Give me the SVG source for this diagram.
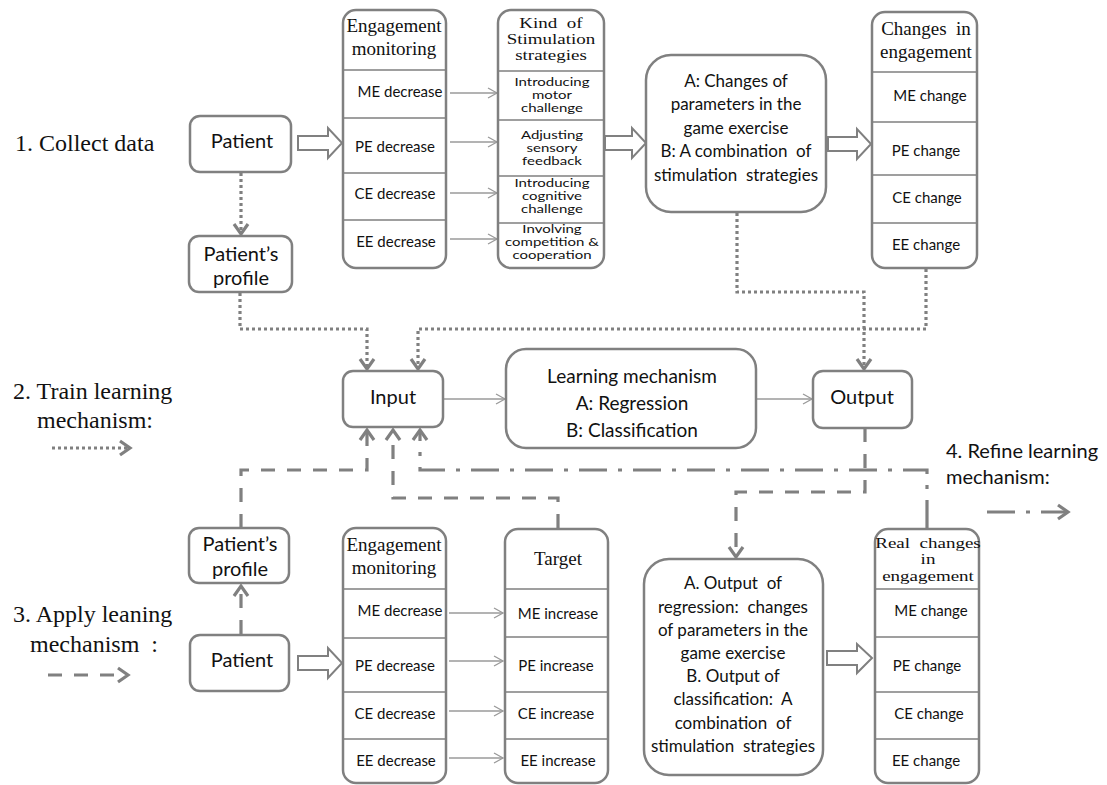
<svg xmlns="http://www.w3.org/2000/svg" width="1107" height="785" viewBox="0 0 1107 785">
<defs>
<style>
.box{fill:#fff;stroke:#808080;stroke-width:2.5}
.div{stroke:#808080;stroke-width:1.5;fill:none}
.hol{fill:#fff;stroke:#808080;stroke-width:2;stroke-linejoin:miter}
.thin{stroke:#9a9a9a;stroke-width:1.3;fill:none}
.dot{stroke:#808080;stroke-width:3.2;fill:none;stroke-dasharray:3 3}
.dash{stroke:#808080;stroke-width:3.2;fill:none;stroke-dasharray:14 12}
.dd{stroke:#808080;stroke-width:3.2;fill:none;stroke-dasharray:28 11 4 11}
.serif{font-family:"Liberation Serif","Times New Roman",serif;fill:#111}
.sans{font-family:Lato,"Open Sans",sans-serif;fill:#111}
.c{text-anchor:middle}
.pre{white-space:pre}
.sq{font-family:Lato,"Open Sans",sans-serif;fill:#111;font-size:15px;text-anchor:middle}
.sqs{font-family:"Liberation Serif","Times New Roman",serif;fill:#111;font-size:19px;text-anchor:middle;white-space:pre}
</style>
<marker id="chev" markerUnits="userSpaceOnUse" markerWidth="18" markerHeight="18" viewBox="0 0 18 18" refX="14" refY="9" orient="auto">
<path d="M4,2 L14,9 L4,16" fill="none" stroke="#808080" stroke-width="3.2" stroke-dasharray="none"/>
</marker>
<marker id="ta" markerUnits="userSpaceOnUse" markerWidth="12" markerHeight="12" viewBox="0 0 12 12" refX="10" refY="6" orient="auto">
<path d="M1,1 L10,6 L1,11" fill="none" stroke="#9a9a9a" stroke-width="1.3"/>
</marker>
</defs>

<g id="labels">
<text class="serif" x="15" y="151" font-size="24">1. Collect data</text>
<text class="serif" x="13" y="399" font-size="24">2. Train learning</text>
<text class="serif" x="37" y="428" font-size="24">mechanism:</text>
<text class="serif" x="13" y="622" font-size="24">3. Apply leaning</text>
<text class="serif pre" x="30" y="652" font-size="24">mechanism  :</text>
<text class="sans" x="946" y="458" font-size="20">4. Refine learning</text>
<text class="sans" x="946" y="484" font-size="20">mechanism:</text>
</g>

<g id="connectors">
<path class="dot" d="M52,448 H130" marker-end="url(#chev)"/>
<path class="dash" d="M48,675 H128" marker-end="url(#chev)"/>
<path class="dd" d="M987,512 H1068" marker-end="url(#chev)"/>

<path class="dot" d="M241,173 V234" marker-end="url(#chev)"/>
<path class="dot" d="M240,293 V329 H367 V369" marker-end="url(#chev)"/>
<path class="dot" d="M737,213 V292 H864 V369" marker-end="url(#chev)"/>
<path class="dot" d="M926,269 V329 H418 V369" marker-end="url(#chev)"/>

<path class="thin" d="M450,93 H497" marker-end="url(#ta)"/>
<path class="thin" d="M450,142 H497" marker-end="url(#ta)"/>
<path class="thin" d="M450,193 H497" marker-end="url(#ta)"/>
<path class="thin" d="M450,239 H497" marker-end="url(#ta)"/>
<path class="thin" d="M444,399 H505" marker-end="url(#ta)"/>
<path class="thin" d="M757,399 H812" marker-end="url(#ta)"/>
<path class="thin" d="M449,613 H503" marker-end="url(#ta)"/>
<path class="thin" d="M449,661 H503" marker-end="url(#ta)"/>
<path class="thin" d="M449,711 H503" marker-end="url(#ta)"/>
<path class="thin" d="M449,758 H503" marker-end="url(#ta)"/>

<path class="dash" d="M241,634 V586" marker-end="url(#chev)"/>
<path class="dash" d="M241,528 V470 H367 V430" marker-end="url(#chev)"/>
<path class="dash" d="M558,528 V498 H393 V430" marker-end="url(#chev)"/>
<path class="dd" d="M927,528 V470 H420 V430" marker-end="url(#chev)"/>
<path class="dash" d="M865,428 V492 H736 V557" marker-end="url(#chev)"/>

<polygon class="hol" points="298,136 328,136 328,128 342,143 328,158 328,150 298,150"/>
<polygon class="hol" points="605,136 632,136 632,128 646,143 632,158 632,150 605,150"/>
<polygon class="hol" points="828,137 857,137 857,129 871,144 857,159 857,151 828,151"/>
<polygon class="hol" points="298,656 328,656 328,648 342,663 328,678 328,670 298,670"/>
<polygon class="hol" points="827,651 857,651 857,644 872,658 857,673 857,665 827,665"/>
</g>

<g id="patient-top">
<rect class="box" x="190" y="116" width="101" height="56" rx="10"/>
<text class="sans c" x="242" y="148" font-size="20">Patient</text>
</g>
<g id="profile-top">
<rect class="box" x="189" y="236" width="103" height="56" rx="10"/>
<text class="sans c" x="241" y="261" font-size="20">Patient’s</text>
<text class="sans c" x="241" y="285" font-size="20">profile</text>
</g>

<g id="engagement-top">
<rect class="box" x="343" y="10" width="103" height="258" rx="13"/>
<path class="div" d="M343,70 H446 M343,118 H446 M343,173 H446 M343,220 H446"/>
<text class="serif c" x="394" y="32" font-size="19">Engagement</text>
<text class="serif c" x="394" y="55" font-size="19">monitoring</text>
<text class="sans c" x="400" y="97" font-size="15">ME decrease</text>
<text class="sans c" x="395" y="152" font-size="15">PE decrease</text>
<text class="sans c" x="395" y="199" font-size="15">CE decrease</text>
<text class="sans c" x="396" y="247" font-size="15">EE decrease</text>
</g>

<g id="stimulation">
<rect class="box" x="498" y="10" width="106" height="258" rx="13"/>
<path class="div" d="M498,71 H604 M498,120 H604 M498,176 H604 M498,223 H604"/>
<text class="sqs" transform="translate(551,28) scale(1,0.72)">Kind  of</text>
<text class="sqs" transform="translate(551,44) scale(1,0.72)">Stimulation</text>
<text class="sqs" transform="translate(551,60) scale(1,0.72)">strategies</text>
<text class="sq" transform="translate(552,86) scale(1,0.72)">Introducing</text>
<text class="sq" transform="translate(552,99) scale(1,0.72)">motor</text>
<text class="sq" transform="translate(552,112) scale(1,0.72)">challenge</text>
<text class="sq" transform="translate(552,139) scale(1,0.72)">Adjusting</text>
<text class="sq" transform="translate(552,152) scale(1,0.72)">sensory</text>
<text class="sq" transform="translate(552,165) scale(1,0.72)">feedback</text>
<text class="sq" transform="translate(552,187) scale(1,0.72)">Introducing</text>
<text class="sq" transform="translate(552,200) scale(1,0.72)">cognitive</text>
<text class="sq" transform="translate(552,213) scale(1,0.72)">challenge</text>
<text class="sq" transform="translate(552,233) scale(1,0.72)">Involving</text>
<text class="sq" transform="translate(552,246) scale(1,0.72)">competition &amp;</text>
<text class="sq" transform="translate(552,259) scale(1,0.72)">cooperation</text>
</g>

<g id="strategy-output">
<rect class="box" x="646" y="55" width="180" height="157" rx="25"/>
<text class="sans c" x="736" y="87" font-size="17">A: Changes of</text>
<text class="sans c" x="736" y="110" font-size="17">parameters in the</text>
<text class="sans c" x="736" y="134" font-size="17">game exercise</text>
<text class="sans c pre" x="736" y="157" font-size="17">B: A combination  of</text>
<text class="sans c pre" x="736" y="181" font-size="17">stimulation  strategies</text>
</g>

<g id="changes-top">
<rect class="box" x="872" y="12" width="105" height="256" rx="13"/>
<path class="div" d="M872,72 H977 M872,122 H977 M872,175 H977 M872,223 H977"/>
<text class="serif c pre" x="926" y="35" font-size="19">Changes  in</text>
<text class="serif c" x="926" y="58" font-size="19">engagement</text>
<text class="sans c" x="930" y="101" font-size="15">ME change</text>
<text class="sans c" x="926" y="156" font-size="15">PE change</text>
<text class="sans c" x="927" y="203" font-size="15">CE change</text>
<text class="sans c" x="926" y="250" font-size="15">EE change</text>
</g>

<g id="input">
<rect class="box" x="343" y="371" width="100" height="56" rx="10"/>
<text class="sans c" x="393" y="404" font-size="20">Input</text>
</g>
<g id="learning">
<rect class="box" x="506" y="349" width="250" height="99" rx="20"/>
<text class="sans c" x="632" y="383" font-size="19">Learning mechanism</text>
<text class="sans c" x="632" y="410" font-size="19">A: Regression</text>
<text class="sans c" x="632" y="437" font-size="19">B: Classification</text>
</g>
<g id="output">
<rect class="box" x="813" y="371" width="99" height="57" rx="10"/>
<text class="sans c" x="862" y="404" font-size="20">Output</text>
</g>

<g id="profile-bottom">
<rect class="box" x="189" y="528" width="100" height="55" rx="10"/>
<text class="sans c" x="240" y="551" font-size="20">Patient’s</text>
<text class="sans c" x="240" y="576" font-size="20">profile</text>
</g>
<g id="patient-bottom">
<rect class="box" x="190" y="635" width="99" height="56" rx="10"/>
<text class="sans c" x="242" y="667" font-size="20">Patient</text>
</g>

<g id="engagement-bottom">
<rect class="box" x="343" y="528" width="103" height="255" rx="13"/>
<path class="div" d="M343,589 H446 M343,638 H446 M343,692 H446 M343,739 H446"/>
<text class="serif c" x="394" y="551" font-size="19">Engagement</text>
<text class="serif c" x="394" y="574" font-size="19">monitoring</text>
<text class="sans c" x="400" y="616" font-size="15">ME decrease</text>
<text class="sans c" x="395" y="671" font-size="15">PE decrease</text>
<text class="sans c" x="395" y="719" font-size="15">CE decrease</text>
<text class="sans c" x="396" y="766" font-size="15">EE decrease</text>
</g>

<g id="target">
<rect class="box" x="505" y="529" width="103" height="254" rx="13"/>
<path class="div" d="M505,589 H608 M505,637 H608 M505,692 H608 M505,739 H608"/>
<text class="serif c" x="558" y="565" font-size="19">Target</text>
<text class="sans c" x="558" y="619" font-size="15">ME increase</text>
<text class="sans c" x="556" y="671" font-size="15">PE increase</text>
<text class="sans c" x="556" y="719" font-size="15">CE increase</text>
<text class="sans c" x="558" y="766" font-size="15">EE increase</text>
</g>

<g id="prediction">
<rect class="box" x="644" y="559" width="179" height="216" rx="25"/>
<text class="sans c pre" x="733" y="589" font-size="17">A. Output  of</text>
<text class="sans c pre" x="733" y="613" font-size="17">regression:  changes</text>
<text class="sans c" x="733" y="636" font-size="17">of parameters in the</text>
<text class="sans c" x="733" y="659" font-size="17">game exercise</text>
<text class="sans c" x="733" y="682" font-size="17">B. Output of</text>
<text class="sans c pre" x="733" y="705" font-size="17">classification:  A</text>
<text class="sans c pre" x="733" y="729" font-size="17">combination  of</text>
<text class="sans c pre" x="733" y="752" font-size="17">stimulation  strategies</text>
</g>

<g id="real-changes">
<rect class="box" x="875" y="529" width="104" height="254" rx="13"/>
<path class="div" d="M875,589 H979 M875,637 H979 M875,692 H979 M875,739 H979"/>
<text class="sqs" transform="translate(928,548) scale(1,0.72)">Real  changes</text>
<text class="sqs" transform="translate(928,564) scale(1,0.72)">in</text>
<text class="sqs" transform="translate(928,581) scale(1,0.72)">engagement</text>
<text class="sans c" x="931" y="616" font-size="15">ME change</text>
<text class="sans c" x="927" y="671" font-size="15">PE change</text>
<text class="sans c" x="929" y="719" font-size="15">CE change</text>
<text class="sans c" x="926" y="766" font-size="15">EE change</text>
</g>
</svg>
